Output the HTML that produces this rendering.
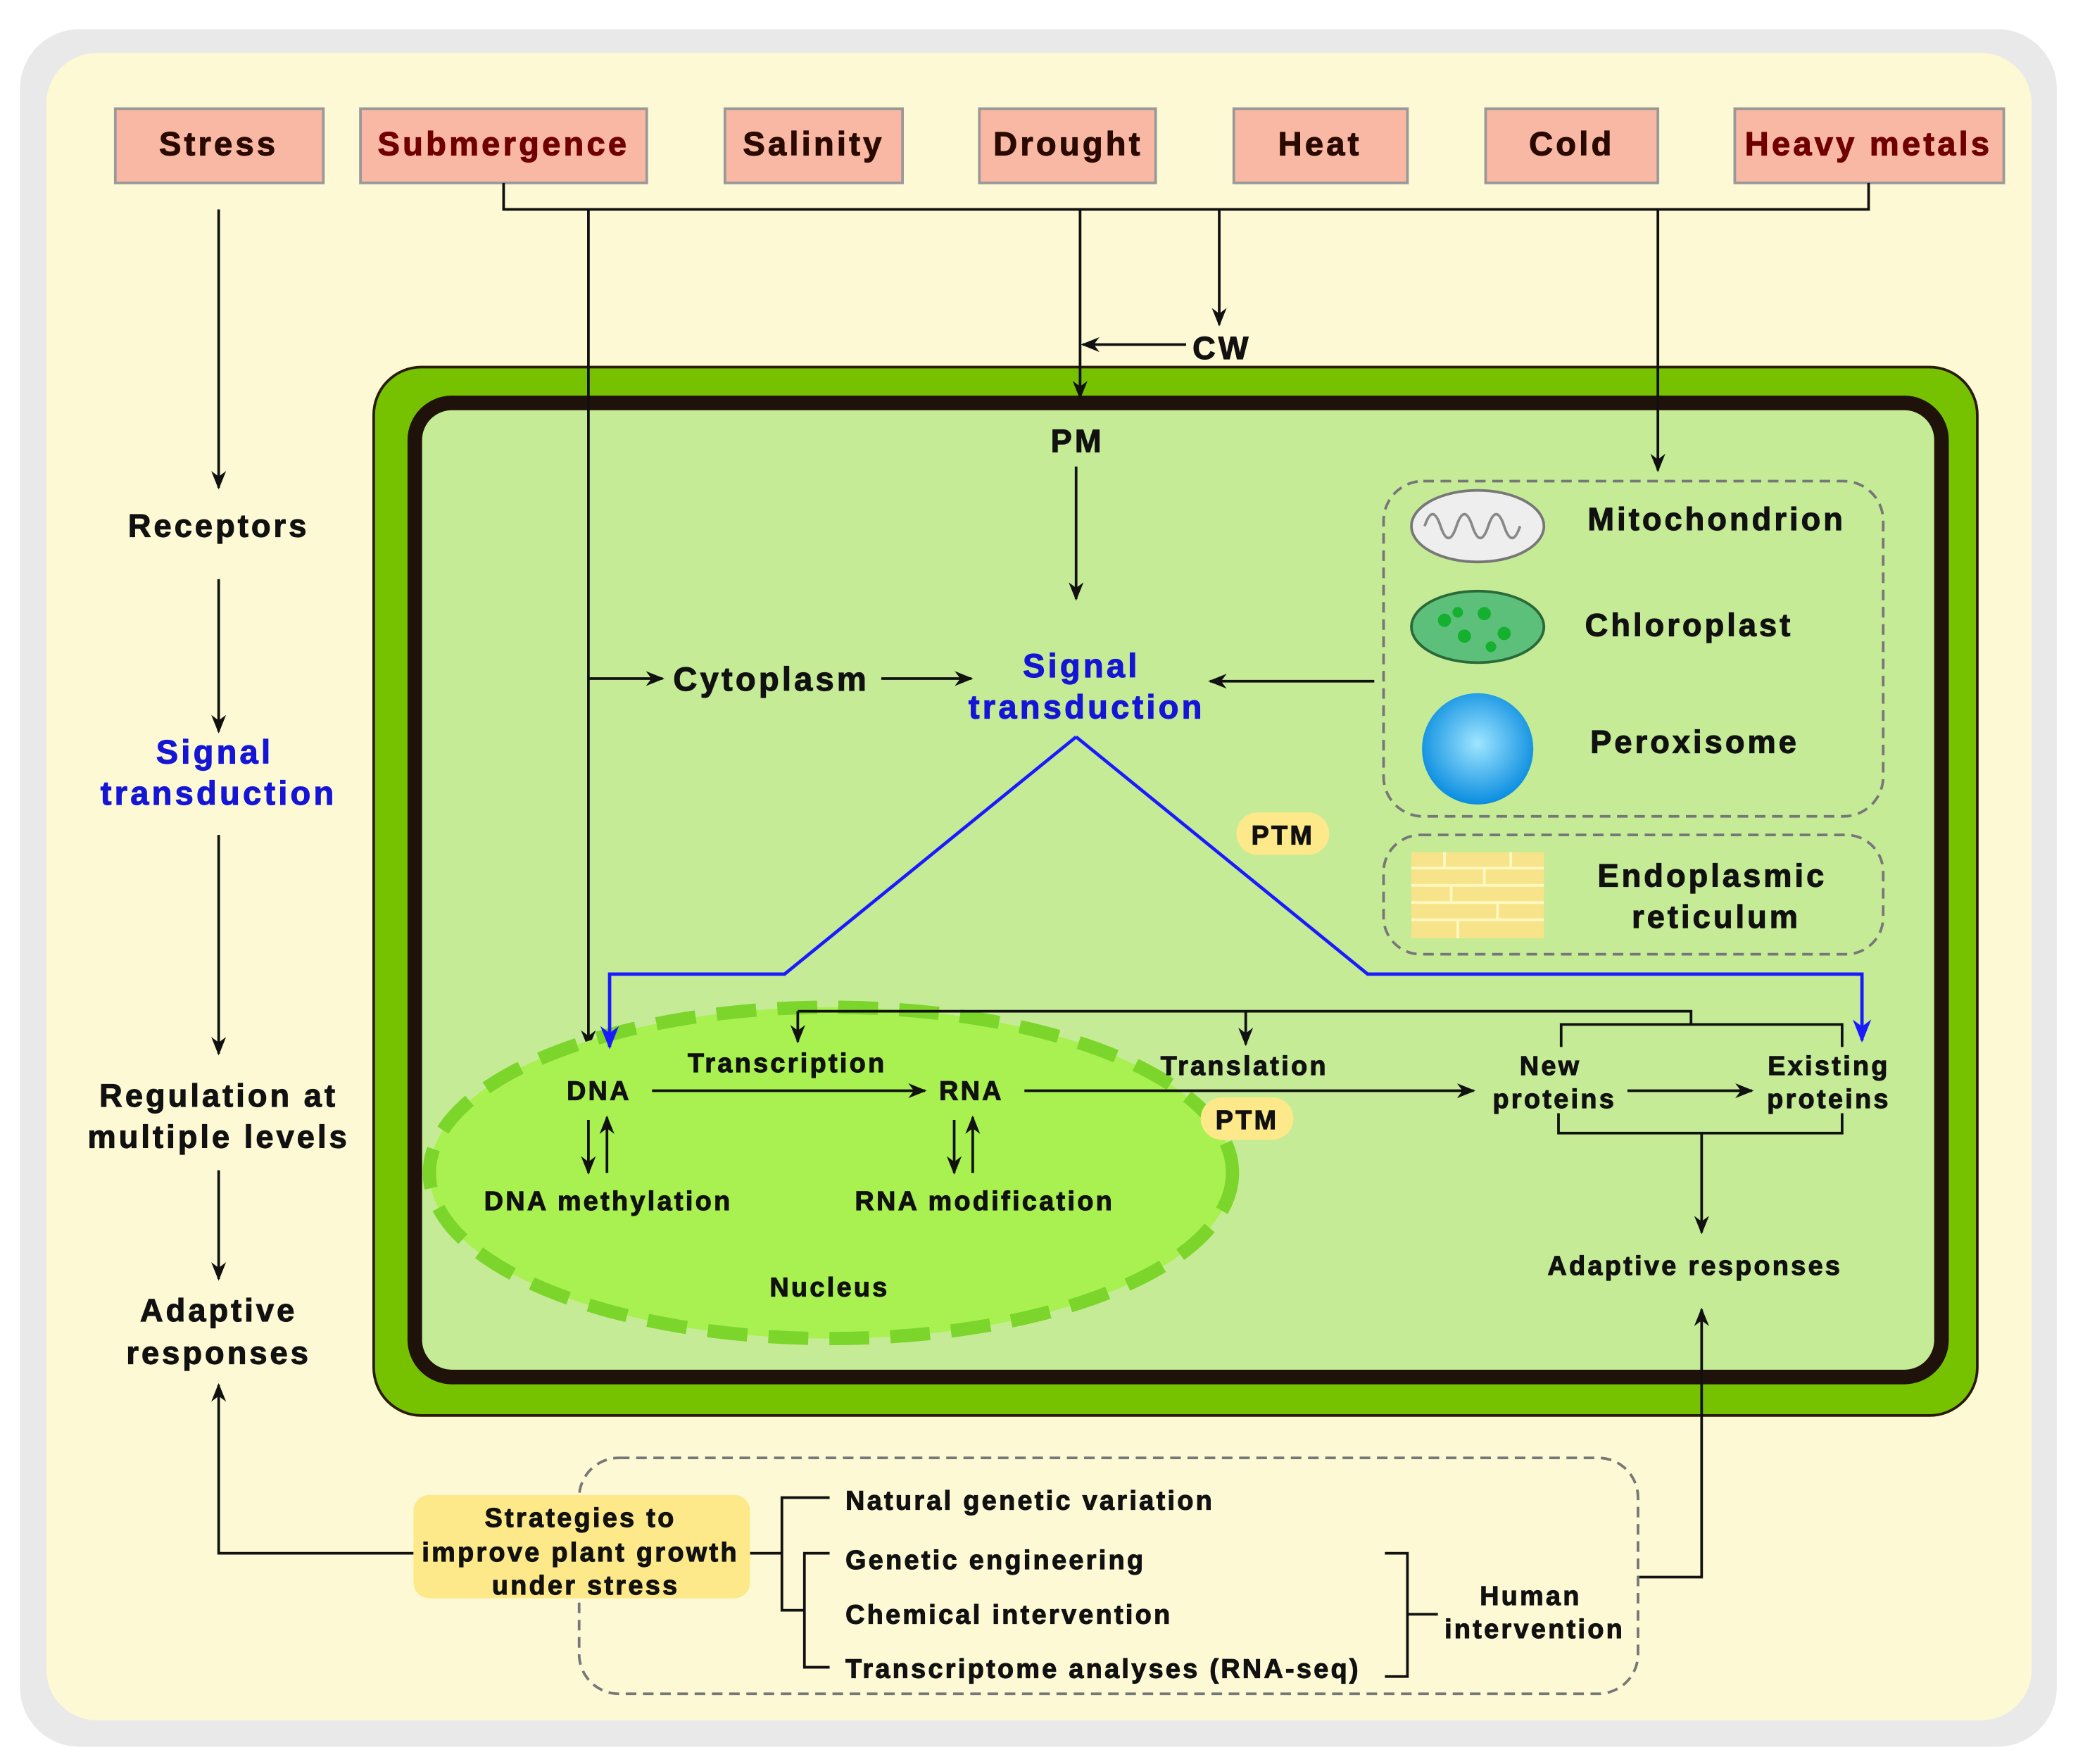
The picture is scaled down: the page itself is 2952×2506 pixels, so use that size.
<!DOCTYPE html>
<html><head><meta charset="utf-8"><style>html,body{margin:0;padding:0;background:#fff}svg{display:block}text{font-family:"Liberation Sans",Arial,sans-serif;font-weight:bold;letter-spacing:0.09em;stroke:currentColor;stroke-width:0.6px}</style></head><body>
<svg width="2952" height="2506" viewBox="0 0 1568 1331" preserveAspectRatio="none" xmlns="http://www.w3.org/2000/svg">
<defs>
<marker id="a" viewBox="0 0 10 10" refX="9" refY="5" markerWidth="7" markerHeight="7" orient="auto-start-reverse"><path d="M0,1 L10,5 L0,9 L3,5z" fill="#111"/></marker>
<marker id="b" viewBox="0 0 10 10" refX="9" refY="5" markerWidth="7" markerHeight="7" orient="auto"><path d="M0,1 L10,5 L0,9 L3,5z" fill="#1a1aff"/></marker>
<radialGradient id="px" cx="0.5" cy="0.45" r="0.55"><stop offset="0" stop-color="#9fe6ff"/><stop offset="1" stop-color="#0a8de0"/></radialGradient>
</defs>
<rect x="0" y="0" width="1568" height="1331" fill="#fff"/>
<rect x="15" y="22" width="1537" height="1296" rx="45" fill="#e9e9e9"/>
<rect x="35" y="40" width="1498" height="1258" rx="38" fill="#fdf9d5"/>
<g stroke="#999" stroke-width="2" fill="#f9b8a4">
<rect x="87" y="82" width="157" height="56"/><rect x="272" y="82" width="216" height="56"/><rect x="547" y="82" width="134" height="56"/><rect x="739" y="82" width="133" height="56"/><rect x="931" y="82" width="131" height="56"/><rect x="1121" y="82" width="130" height="56"/><rect x="1309" y="82" width="203" height="56"/>
</g>
<g font-size="25" text-anchor="middle">
<text x="165" y="117" fill="#2a0a00" color="#2a0a00">Stress</text><text x="380" y="117" fill="#700000" color="#700000">Submergence</text><text x="614" y="117" fill="#2a0a00" color="#2a0a00">Salinity</text><text x="806" y="117" fill="#2a0a00" color="#2a0a00">Drought</text><text x="996" y="117" fill="#2a0a00" color="#2a0a00">Heat</text><text x="1186" y="117" fill="#2a0a00" color="#2a0a00">Cold</text><text x="1410" y="117" fill="#700000" color="#700000">Heavy metals</text>
</g>
<rect x="282" y="277" width="1210" height="791" rx="36" fill="#77c200" stroke="#2a1a0a" stroke-width="2"/>
<rect x="313" y="304" width="1152" height="735" rx="28" fill="#c5eb97" stroke="#1f120b" stroke-width="11"/>
<g stroke="#111" stroke-width="2" fill="none">
<path d="M380,138 V158 H1410 V138"/>
<path d="M444,158 V790" marker-end="url(#a)"/>
<path d="M815,158 V300" marker-end="url(#a)"/>
<path d="M920,158 V245" marker-end="url(#a)"/>
<path d="M895,260 H817" marker-end="url(#a)"/>
<path d="M1251,158 V355" marker-end="url(#a)"/>
<path d="M165,158 V368" marker-end="url(#a)"/>
<path d="M165,437 V552" marker-end="url(#a)"/>
<path d="M165,630 V795" marker-end="url(#a)"/>
<path d="M165,883 V965" marker-end="url(#a)"/>
<path d="M312,1172 H165 V1045" marker-end="url(#a)"/>
<path d="M812,352 V452" marker-end="url(#a)"/>
<path d="M444,512 H500" marker-end="url(#a)"/>
<path d="M665,512 H733" marker-end="url(#a)"/>
<path d="M1037,514 H913" marker-end="url(#a)"/>
</g>
<g font-size="24" text-anchor="middle" fill="#111" color="#111">
<text x="922" y="271">CW</text>
<text x="813" y="341">PM</text>
<text x="165" y="405">Receptors</text>
<text x="165" y="835">Regulation at</text><text x="165" y="866">multiple levels</text>
<text x="165" y="997">Adaptive</text><text x="165" y="1029">responses</text>
<text x="582" y="521" font-size="25">Cytoplasm</text>
</g>
<g font-size="25" text-anchor="middle" fill="#1515d6" color="#1515d6">
<text x="162" y="576">Signal</text><text x="165" y="607">transduction</text>
<text x="816" y="511">Signal</text><text x="820" y="542">transduction</text>
</g>
<rect x="1044" y="363" width="377" height="253" rx="30" fill="none" stroke="#777" stroke-width="2" stroke-dasharray="8,5"/>
<rect x="1044" y="630" width="377" height="90" rx="28" fill="none" stroke="#777" stroke-width="2" stroke-dasharray="8,5"/>
<ellipse cx="1115" cy="397" rx="50" ry="27" fill="#eee" stroke="#777" stroke-width="2"/>
<path d="M1075,397 q6,-18 12,0 q6,18 12,0 q6,-18 12,0 q6,18 12,0 q6,-18 12,0 q6,18 12,0" fill="none" stroke="#888" stroke-width="2"/>
<ellipse cx="1115" cy="473" rx="50" ry="27" fill="#5cc07a" stroke="#2a6a3a" stroke-width="2"/>
<g fill="#16b030"><circle cx="1090" cy="468" r="5"/><circle cx="1105" cy="480" r="5"/><circle cx="1120" cy="463" r="5"/><circle cx="1135" cy="478" r="5"/><circle cx="1100" cy="462" r="4"/><circle cx="1125" cy="488" r="4"/></g>
<circle cx="1115" cy="565" r="42" fill="url(#px)"/>
<rect x="1065" y="643" width="100" height="65" fill="#f7e48a"/>
<g stroke="#fff8c0" stroke-width="2"><path d="M1065,655H1165M1065,668H1165M1065,681H1165M1065,694H1165M1090,643V655M1120,655V668M1095,668V681M1130,681V694M1100,694V708M1140,643V655"/></g>
<g font-size="24" fill="#111" color="#111">
<text x="1198" y="400">Mitochondrion</text><text x="1196" y="480">Chloroplast</text><text x="1200" y="568">Peroxisome</text>
<text x="1292" y="669" text-anchor="middle">Endoplasmic</text><text x="1295" y="700" text-anchor="middle">reticulum</text>
</g>
<ellipse cx="627" cy="885" rx="303" ry="125" fill="#a8f150" stroke="#7bd52a" stroke-width="10" stroke-dasharray="30,16"/>
<g stroke="#1a1aff" stroke-width="2.5" fill="none">
<path d="M812,556 L592,735 H460 V790" marker-end="url(#b)"/>
<path d="M812,556 L1032,735 H1405 V785" marker-end="url(#b)"/>
</g>
<g stroke="#111" stroke-width="2" fill="none">
<path d="M602,763 H1276 V773"/>
<path d="M602,763 V786" marker-end="url(#a)"/>
<path d="M940,763 V788" marker-end="url(#a)"/>
<path d="M1178,790 V773 H1390 V790"/>
<path d="M1176,840 V855 H1390 V840"/>
<path d="M1284,855 V930" marker-end="url(#a)"/>
<path d="M492,823 H698" marker-end="url(#a)"/>
<path d="M773,823 H1112" marker-end="url(#a)"/>
<path d="M1228,823 H1322" marker-end="url(#a)"/>
<path d="M444,845 V885" marker-end="url(#a)"/>
<path d="M458,885 V843" marker-end="url(#a)"/>
<path d="M720,845 V885" marker-end="url(#a)"/>
<path d="M734,885 V843" marker-end="url(#a)"/>
<path d="M1236,1190 H1284 V988" marker-end="url(#a)"/>
</g>
<rect x="933" y="613" width="70" height="32" rx="16" fill="#fde98a"/>
<rect x="906" y="828" width="70" height="32" rx="16" fill="#fde98a"/>
<g font-size="20" text-anchor="middle" fill="#111" color="#111">
<text x="968" y="637">PTM</text><text x="941" y="852">PTM</text>
<text x="452" y="830">DNA</text><text x="594" y="809">Transcription</text><text x="733" y="830">RNA</text>
<text x="939" y="811">Translation</text>
<text x="1170" y="811">New</text><text x="1173" y="836">proteins</text>
<text x="1380" y="811">Existing</text><text x="1380" y="836">proteins</text>
<text x="459" y="913">DNA methylation</text><text x="743" y="913">RNA modification</text>
<text x="626" y="978">Nucleus</text>
<text x="1279" y="962">Adaptive responses</text>
</g>
<rect x="437" y="1100" width="799" height="178" rx="30" fill="none" stroke="#777" stroke-width="2" stroke-dasharray="8,5"/>
<rect x="312" y="1128" width="254" height="78" rx="12" fill="#fde98a"/>
<g stroke="#111" stroke-width="2" fill="none">
<path d="M566,1172 H590"/><path d="M626,1130 H590 V1215 H607"/><path d="M626,1172 H607 V1258 H626"/>
<path d="M1045,1172 H1062 V1265 H1045"/><path d="M1062,1218 H1085"/>
</g>
<g font-size="20" fill="#111" color="#111">
<text x="438" y="1152" text-anchor="middle">Strategies to</text><text x="438" y="1178" text-anchor="middle">improve plant growth</text><text x="442" y="1203" text-anchor="middle">under stress</text>
<text x="638" y="1139">Natural genetic variation</text><text x="638" y="1184">Genetic engineering</text><text x="638" y="1225">Chemical intervention</text><text x="638" y="1266">Transcriptome analyses (RNA-seq)</text>
<text x="1155" y="1211" text-anchor="middle">Human</text><text x="1158" y="1236" text-anchor="middle">intervention</text>
</g>
</svg>
</body></html>
